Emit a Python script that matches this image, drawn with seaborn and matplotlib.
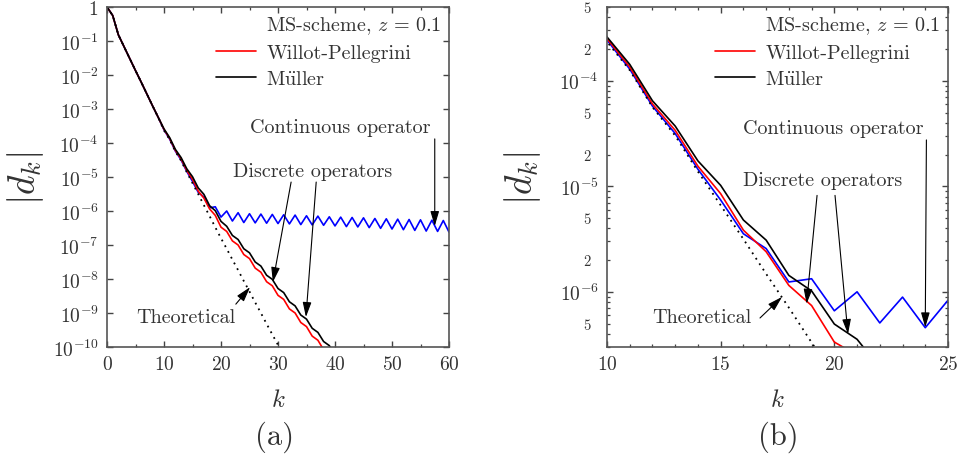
import numpy as np
import pandas as pd
import matplotlib
matplotlib.use("Agg")
import matplotlib.pyplot as plt
import matplotlib.ticker as mticker
from matplotlib.lines import Line2D
import seaborn as sns

# ---------------- data ----------------
k_black = list(range(0, 41))
black = [1.0, 0.562, 0.151, 0.0676, 0.0302, 0.0135, 6.17e-3, 2.75e-3, 1.23e-3, 5.62e-4,
         2.60e-4, 1.43e-4, 6.46e-5, 3.72e-5, 1.74e-5, 1.02e-5, 4.79e-6, 3.09e-6, 1.43e-6, 1.02e-6,
         4.95e-7, 3.55e-7, 1.91e-7, 1.45e-7, 7.76e-8, 5.89e-8, 3.16e-8, 2.40e-8, 1.29e-8, 9.77e-9,
         5.25e-9, 3.98e-9, 2.14e-9, 1.62e-9, 8.71e-10, 6.61e-10, 3.55e-10, 2.69e-10, 1.45e-10, 1.10e-10,
         5.89e-11]

k_red = list(range(0, 39))
red = [1.0, 0.562, 0.151, 0.0676, 0.0302, 0.0135, 6.17e-3, 2.75e-3, 1.23e-3, 5.62e-4,
       2.51e-4, 1.35e-4, 6.03e-5, 3.39e-5, 1.55e-5, 8.51e-6, 3.84e-6, 2.40e-6, 1.15e-6, 7.41e-7,
       3.34e-7, 2.51e-7, 1.32e-7, 1.0e-7, 5.25e-8, 3.98e-8, 2.09e-8, 1.58e-8, 8.32e-9, 6.31e-9,
       3.31e-9, 2.51e-9, 1.32e-9, 1.0e-9, 5.25e-10, 3.98e-10, 2.09e-10, 1.58e-10, 8.32e-11]

k_blue = list(range(0, 61))
blue = [1.0, 0.562, 0.151, 0.0676, 0.0302, 0.0135, 6.17e-3, 2.75e-3, 1.23e-3, 5.62e-4,
        2.43e-4, 1.29e-4, 5.75e-5, 3.16e-5, 1.45e-5, 7.41e-6, 3.55e-6, 2.57e-6, 1.24e-6, 1.33e-6,
        6.61e-7, 1.0e-6, 5.07e-7, 8.91e-7, 4.57e-7, 8.32e-7, 4.47e-7, 8.13e-7, 4.37e-7, 7.94e-7,
        4.27e-7, 7.76e-7, 4.17e-7, 7.59e-7, 3.98e-7, 7.24e-7, 3.89e-7, 7.08e-7, 3.80e-7, 6.76e-7,
        3.63e-7, 6.61e-7, 3.47e-7, 6.46e-7, 3.39e-7, 6.31e-7, 3.24e-7, 6.03e-7, 3.09e-7, 5.89e-7,
        2.95e-7, 5.75e-7, 2.82e-7, 5.62e-7, 2.69e-7, 5.50e-7, 2.57e-7, 5.37e-7, 2.51e-7, 5.25e-7,
        2.40e-7]

k_theo = list(range(0, 32))
theo = [1.0, 0.562, 0.151, 0.0676, 0.0302, 0.0135, 6.17e-3, 2.75e-3, 1.23e-3, 5.62e-4,
        2.34e-4, 1.26e-4, 5.62e-5, 3.02e-5, 1.38e-5, 6.61e-6, 3.16e-6, 1.48e-6, 7.08e-7, 3.31e-7,
        1.58e-7, 7.76e-8, 3.72e-8, 1.82e-8, 8.71e-9, 4.27e-9, 2.04e-9, 1.0e-9, 4.79e-10, 2.34e-10,
        1.15e-10, 5.50e-11]

legend_labels = [r"MS-scheme, $z\,=\,0.1$", "Willot-Pellegrini", r"M$\ddot{\mathrm{u}}$ller"]
panel_labels = ["(a)", "(b)"]

# ---------------- style ----------------
sns.set_theme(style="ticks")
plt.rcParams.update({
    "font.family": ["serif"],
    "font.serif": ["cmr10", "DejaVu Serif"],
    "mathtext.fontset": "cm",
    "axes.formatter.use_mathtext": True,
    "axes.unicode_minus": False,
    "text.color": "#333333",
    "axes.labelcolor": "#333333",
    "xtick.color": "#444444",
    "ytick.color": "#444444",
    "xtick.labelcolor": "#333333",
    "ytick.labelcolor": "#333333",
    "axes.edgecolor": "#555555",
    "axes.linewidth": 1.2,
})

TXT = 14.5
fig = plt.figure(figsize=(9.59, 4.64), dpi=100)
W, H = 959, 464

def px_axes(x0, y0, x1, y1):
    return fig.add_axes([x0 / W, 1 - y1 / H, (x1 - x0) / W, (y1 - y0) / H])

axA = px_axes(107, 8, 449, 348)
axB = px_axes(607, 8, 948, 348)

series = [
    (k_blue, blue, "#0000ff", "-", 1.2),
    (k_red, red, "#ff0000", "-", 1.2),
    (k_black, black, "#000000", "-", 1.2),
    (k_theo, theo, "#000000", (0, (1, 2.6)), 1.3),
]

for ax in (axA, axB):
    for kk, vv, col, ls, lw in series:
        sns.lineplot(x=kk, y=vv, ax=ax, color=col, linestyle=ls, lw=lw, legend=False)
    ax.set_yscale("log")
    ax.tick_params(which="both", direction="in", top=True, right=True, labelsize=14)
    ax.tick_params(which="major", length=4.5, width=1.0, pad=6)
    ax.tick_params(which="minor", length=2.5, width=0.9)
    ax.set_xlabel("$k$", fontsize=18, labelpad=11)
    handles = [Line2D([], [], color="none"),
               Line2D([], [], color="#ff0000", lw=1.2),
               Line2D([], [], color="#000000", lw=1.2)]
    ax.legend(handles, legend_labels, loc="upper right", frameon=False, fontsize=TXT,
              handlelength=2.0, handletextpad=0.5, labelspacing=0.4,
              borderaxespad=0.2, borderpad=0.15)

axA.set_ylabel("$|d_k|$", fontsize=27, labelpad=5)
axB.set_ylabel("$|d_k|$", fontsize=27, labelpad=12)

# panel (a)
axA.set_xlim(0, 60)
axA.set_ylim(1e-10, 1)
axA.xaxis.set_major_locator(mticker.MultipleLocator(10))
axA.xaxis.set_minor_locator(mticker.MultipleLocator(5))
axA.yaxis.set_major_locator(mticker.LogLocator(base=10, numticks=20))
axA.yaxis.set_minor_locator(mticker.NullLocator())
axA.yaxis.set_major_formatter(mticker.FuncFormatter(
    lambda v, p: "$1$" if abs(v - 1) < 1e-9 else r"$10^{%d}$" % round(np.log10(v))))

arrow = dict(arrowstyle="-|>,head_length=0.75,head_width=0.22", color="black", lw=0.8,
             shrinkA=0, shrinkB=0)
axA.text(56.7, 2.95e-4, "Continuous operator", ha="right", va="center", fontsize=TXT)
axA.annotate("", xy=(57.5, 3.6e-7), xytext=(57.5, 1.32e-4), arrowprops=arrow)
axA.text(36.1, 1.5e-5, "Discrete operators", ha="center", va="center", fontsize=TXT)
axA.annotate("", xy=(29.1, 8.1e-9), xytext=(32.3, 7.1e-6), arrowprops=arrow)
axA.annotate("", xy=(34.9, 7.6e-10), xytext=(36.7, 7.1e-6), arrowprops=arrow)
axA.text(13.9, 7.6e-10, "Theoretical", ha="center", va="center", fontsize=TXT)
axA.annotate("", xy=(25.1, 5.75e-9), xytext=(22.6, 1.82e-9), arrowprops=arrow)

# panel (b)
axB.set_xlim(10, 25)
axB.set_ylim(3e-7, 5e-4)
axB.xaxis.set_major_locator(mticker.MultipleLocator(5))
axB.xaxis.set_minor_locator(mticker.MultipleLocator(1))
axB.yaxis.set_major_locator(mticker.LogLocator(base=10, numticks=20))
axB.yaxis.set_minor_locator(mticker.LogLocator(base=10, subs=np.arange(2, 10), numticks=20))
axB.yaxis.set_major_formatter(mticker.FuncFormatter(
    lambda v, p: r"$10^{%d}$" % round(np.log10(v))))

def minor_fmt(v, p):
    m = v / 10 ** np.floor(np.log10(v) + 1e-9)
    return "%d" % round(m) if round(m) in (2, 5) else ""

axB.yaxis.set_minor_formatter(mticker.FuncFormatter(minor_fmt))
axB.tick_params(axis="y", which="minor", labelsize=10.5, pad=12)

axB.text(19.94, 3.56e-5, "Continuous operator", ha="center", va="center", fontsize=TXT)
axB.annotate("", xy=(24.0, 4.6e-7), xytext=(24.05, 2.75e-5), arrowprops=arrow)
axB.text(19.5, 1.14e-5, "Discrete operators", ha="center", va="center", fontsize=TXT)
axB.annotate("", xy=(18.78, 7.7e-7), xytext=(19.24, 8.2e-6), arrowprops=arrow)
axB.annotate("", xy=(20.6, 3.98e-7), xytext=(20.03, 8.2e-6), arrowprops=arrow)
axB.text(14.18, 5.78e-7, "Theoretical", ha="center", va="center", fontsize=TXT)
axB.annotate("", xy=(17.7, 8.95e-7), xytext=(16.73, 5.65e-7), arrowprops=arrow)

fig.text(275 / W, 1 - 437 / H, panel_labels[0], ha="center", va="center", fontsize=22)
fig.text(778 / W, 1 - 437 / H, panel_labels[1], ha="center", va="center", fontsize=22)

fig.savefig("out.png", dpi=100)
